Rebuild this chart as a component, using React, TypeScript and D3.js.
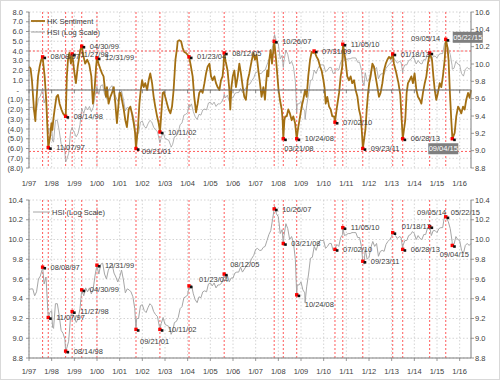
import React from "react";
import * as d3 from "d3";

// ---------- data ----------
const xTickYears = [1997, 1998, 1999, 2000, 2001, 2002, 2003, 2004, 2005, 2006, 2007, 2008, 2009, 2010, 2011, 2012, 2013, 2014, 2015, 2016];
const xTickLabels = ["1/97", "1/98", "1/99", "1/00", "1/01", "1/02", "1/03", "1/04", "1/05", "1/06", "1/07", "1/08", "1/09", "1/10", "1/11", "1/12", "1/13", "1/14", "1/15", "1/16"];
const sentimentTicks = [8, 7, 6, 5, 4, 3, 2, 1, 0, -1, -2, -3, -4, -5, -6, -7, -8];
const hsiTicksTop = [10.6, 10.4, 10.2, 10.0, 9.8, 9.6, 9.4, 9.2, 9.0, 8.8];
const hsiTicksBottom = [10.4, 10.2, 10.0, 9.8, 9.6, 9.4, 9.2, 9.0, 8.8];
const sentimentBands = [4.0, -6.3];

// HSI (natural log), value at 1/97 then month-end values Jan 1997 .. Jun 2016
const hsiStart = 9.49;
const hsiMonthEnd = [
  9.50, 9.50, 9.43, 9.47, 9.60, 9.63, 9.70, 9.55, 9.62, 9.27, 9.26, 9.28,
  9.10, 9.35, 9.35, 9.23, 9.08, 9.05, 8.99, 8.90, 8.97, 9.22, 9.25, 9.21,
  9.16, 9.20, 9.30, 9.48, 9.43, 9.51, 9.47, 9.51, 9.45, 9.50, 9.64, 9.73,
  9.65, 9.75, 9.76, 9.65, 9.60, 9.69, 9.73, 9.75, 9.66, 9.62, 9.57, 9.62,
  9.69, 9.59, 9.46, 9.50, 9.49, 9.47, 9.42, 9.30, 9.20, 9.20, 9.33, 9.34,
  9.28, 9.26, 9.31, 9.35, 9.33, 9.27, 9.24, 9.22, 9.12, 9.15, 9.21, 9.14,
  9.13, 9.12, 9.06, 9.07, 9.16, 9.17, 9.21, 9.30, 9.32, 9.41, 9.42, 9.44,
  9.50, 9.54, 9.45, 9.39, 9.36, 9.42, 9.41, 9.47, 9.48, 9.47, 9.55, 9.56,
  9.53, 9.56, 9.51, 9.54, 9.54, 9.56, 9.61, 9.61, 9.64, 9.57, 9.61, 9.61,
  9.66, 9.67, 9.67, 9.72, 9.67, 9.70, 9.73, 9.76, 9.77, 9.81, 9.84, 9.90,
  9.91, 9.89, 9.89, 9.92, 9.93, 9.99, 10.05, 10.09, 10.21, 10.34, 10.26, 10.23,
  10.06, 10.10, 10.04, 10.16, 10.11, 10.00, 10.03, 9.97, 9.80, 9.54, 9.54, 9.57,
  9.49, 9.46, 9.52, 9.65, 9.81, 9.82, 9.93, 9.89, 9.95, 9.99, 9.99, 9.99,
  9.91, 9.93, 9.96, 9.96, 9.89, 9.91, 9.95, 9.93, 10.02, 10.05, 10.04, 10.05,
  10.06, 10.06, 10.07, 10.07, 10.07, 10.02, 10.02, 9.93, 9.78, 9.90, 9.80, 9.82,
  9.92, 9.98, 9.93, 9.96, 9.83, 9.88, 9.89, 9.88, 9.95, 9.98, 10.00, 10.03,
  10.07, 10.04, 10.01, 10.03, 10.02, 9.94, 9.99, 9.99, 10.04, 10.05, 10.08, 10.06,
  10.00, 10.04, 10.01, 10.00, 10.05, 10.05, 10.12, 10.12, 10.04, 10.09, 10.09, 10.07,
  10.11, 10.12, 10.12, 10.24, 10.22, 10.18, 10.11, 9.98, 9.95, 10.03, 10.00, 9.99,
  9.89, 9.86, 9.94, 9.96, 9.94, 9.96,
];
// intra-month extremes: [year, ln HSI]
const hsiExtra: [number, number][] = [[1998.04, 9.11], [2003.27, 9.04], [2009.18, 9.36], [2011.78, 9.75]];

// HK Sentiment: [year, value]
const sentiment: [number, number][] = [
  [1997.00, 2.4], [1997.07, 2.2], [1997.13, 1.0], [1997.22, -2.0], [1997.28, -3.2], [1997.32, -1.4], [1997.40, 1.4], [1997.47, 2.4], [1997.54, 3.1], [1997.60, 3.4], [1997.69, 1.4], [1997.76, -1.0], [1997.81, -3.8], [1997.85, -5.9], [1997.93, -4.8], [1997.99, -3.4],
  [1998.03, -4.1], [1998.07, -3.1], [1998.13, -2.0], [1998.21, -0.7], [1998.28, -0.5], [1998.35, -1.4], [1998.43, -2.0], [1998.50, -2.4], [1998.57, -2.6], [1998.62, -2.7], [1998.67, 1.4], [1998.72, 3.1], [1998.78, 3.8], [1998.85, 2.7], [1998.91, 3.7], [1998.99, 2.0],
  [1999.07, 0.7], [1999.15, 2.4], [1999.26, 4.1], [1999.33, 4.5], [1999.41, 3.4], [1999.48, 2.7], [1999.57, 3.1], [1999.66, 2.6], [1999.75, 1.4], [1999.82, -1.4], [1999.90, 0.3], [1999.96, 2.4], [2000.00, 3.3],
  [2000.07, 2.7], [2000.14, 2.2], [2000.22, 1.7], [2000.29, 1.4], [2000.34, 0.3], [2000.40, -0.7], [2000.44, 0.3], [2000.51, -1.4], [2000.59, -0.7], [2000.66, -0.3], [2000.74, 0.3], [2000.81, -1.4], [2000.88, -3.4], [2000.93, -2.0], [2000.99, -0.3],
  [2001.04, -0.3], [2001.10, -1.0], [2001.18, -2.0], [2001.25, -3.1], [2001.32, -3.8], [2001.40, -2.0], [2001.47, -1.7], [2001.54, -2.4], [2001.62, -3.4], [2001.68, -4.4], [2001.72, -6.0], [2001.81, -3.8], [2001.87, -1.4], [2001.93, 0.0], [2001.99, 1.0],
  [2002.06, 0.3], [2002.13, 0.7], [2002.21, 0.0], [2002.28, 1.0], [2002.35, 1.7], [2002.43, 0.7], [2002.50, -0.7], [2002.57, -1.7], [2002.65, -2.7], [2002.72, -3.4], [2002.78, -4.3], [2002.85, -2.0], [2002.90, -0.3], [2002.96, -0.2],
  [2003.01, -0.7], [2003.09, -1.4], [2003.16, -2.0], [2003.24, -2.4], [2003.31, -1.7], [2003.38, 0.0], [2003.46, 3.1], [2003.53, 4.3], [2003.56, 5.0], [2003.63, 5.1], [2003.71, 5.0], [2003.78, 4.3], [2003.85, 3.9], [2003.93, 3.8],
  [2004.00, 3.6], [2004.06, 3.4], [2004.13, 2.6], [2004.22, 1.4], [2004.29, -0.7], [2004.37, -2.3], [2004.44, -1.4], [2004.51, -0.3], [2004.59, 0.0], [2004.66, -0.3], [2004.74, 0.7], [2004.81, 1.7], [2004.88, 2.4], [2004.96, 2.7],
  [2005.03, 1.4], [2005.10, 1.0], [2005.18, 1.4], [2005.25, 0.7], [2005.32, 0.3], [2005.40, 0.0], [2005.47, 1.0], [2005.54, 1.4], [2005.58, 2.4], [2005.61, 3.8], [2005.68, 2.9], [2005.76, 2.0], [2005.84, 0.0], [2005.88, -2.0], [2005.93, 0.3], [2005.99, 1.4],
  [2006.06, 2.0], [2006.13, 0.3], [2006.21, 1.4], [2006.28, 2.7], [2006.35, 1.7], [2006.43, 0.3], [2006.50, -0.7], [2006.57, -1.0], [2006.65, 1.0], [2006.72, 1.7], [2006.79, 2.6], [2006.86, 3.4], [2006.90, 3.8], [2006.97, 3.1],
  [2007.04, 3.6], [2007.12, 2.0], [2007.19, 0.7], [2007.26, -0.7], [2007.34, 0.3], [2007.41, -1.0], [2007.46, 0.7], [2007.51, 2.0], [2007.56, 1.4], [2007.60, 3.1], [2007.66, 4.1], [2007.72, 2.7], [2007.78, 4.1], [2007.82, 5.0], [2007.90, 3.1], [2007.96, 1.4],
  [2008.01, 0.0], [2008.07, -1.0], [2008.15, -2.0], [2008.19, -3.1], [2008.22, -5.0], [2008.27, -3.0], [2008.31, -2.7], [2008.37, -2.7], [2008.44, -2.0], [2008.51, -2.4], [2008.59, -3.1], [2008.66, -2.7], [2008.74, -3.4], [2008.81, -5.0], [2008.88, -3.8], [2008.96, -2.7],
  [2009.03, -1.7], [2009.10, -1.0], [2009.18, 0.0], [2009.25, -0.7], [2009.32, 1.4], [2009.40, 3.1], [2009.47, 3.9], [2009.54, 3.8], [2009.58, 4.0], [2009.69, 3.4], [2009.76, 3.1], [2009.84, 2.4], [2009.91, 2.0], [2009.99, 1.0],
  [2010.04, 0.2], [2010.09, -1.4], [2010.16, -0.7], [2010.24, -1.7], [2010.31, -2.0], [2010.38, -2.7], [2010.46, -2.7], [2010.50, -3.3], [2010.57, -2.0], [2010.68, -0.3], [2010.75, 1.4], [2010.82, 2.4], [2010.85, 4.7], [2010.96, 3.1],
  [2011.04, 1.4], [2011.12, 1.0], [2011.19, 1.4], [2011.26, 0.7], [2011.34, 1.0], [2011.41, 0.0], [2011.49, -0.7], [2011.56, -2.0], [2011.63, -2.7], [2011.68, -4.1], [2011.73, -6.0], [2011.84, -4.1], [2011.90, -2.0], [2011.96, -0.3],
  [2012.01, 0.7], [2012.07, 1.4], [2012.15, 2.7], [2012.22, 2.4], [2012.29, 1.4], [2012.37, 0.3], [2012.44, -0.7], [2012.51, -0.3], [2012.59, 0.7], [2012.66, 2.0], [2012.74, 2.7], [2012.81, 3.1], [2012.88, 3.4], [2012.96, 3.2],
  [2013.05, 3.7], [2013.10, 2.7], [2013.20, 1.8], [2013.30, 0.7], [2013.38, -0.5], [2013.44, -3.0], [2013.49, -5.0], [2013.60, -3.1], [2013.66, -0.3], [2013.72, 0.7], [2013.79, 1.0], [2013.87, 1.4], [2013.94, 0.7],
  [2014.01, 1.7], [2014.09, 0.0], [2014.16, -0.7], [2014.24, -1.0], [2014.31, -1.4], [2014.38, -0.3], [2014.46, 0.7], [2014.53, 1.4], [2014.60, 2.7], [2014.68, 3.8], [2014.78, 3.1], [2014.84, 1.4], [2014.90, 0.0], [2014.97, -1.0],
  [2015.04, -0.3], [2015.12, 0.7], [2015.19, 0.3], [2015.26, 1.4], [2015.34, 3.1], [2015.39, 5.2], [2015.46, 4.4], [2015.51, 3.1], [2015.57, -0.3], [2015.63, -3.1], [2015.68, -5.0], [2015.78, -4.4], [2015.85, -2.7], [2015.93, -1.7],
  [2016.00, -2.0], [2016.07, -2.4], [2016.15, -1.7], [2016.22, -2.0], [2016.29, -1.0], [2016.37, -0.3], [2016.44, -0.8], [2016.50, 0.0],
];

const eventDates = ["08/08/97", "11/07/97", "08/14/98", "11/27/98", "04/30/99", "12/31/99", "09/21/01", "10/11/02", "01/23/04", "08/12/05", "10/26/07", "03/21/08", "10/24/08", "07/31/09", "07/02/10", "11/05/10", "09/23/11", "01/18/13", "06/28/13", "09/05/14", "05/22/15", "09/04/15"];
const eventSentiment = [3.4, -5.9, -2.7, 3.7, 4.5, 3.3, -6.0, -4.3, 3.4, 3.8, 5.0, -5.0, -5.0, 4.0, -3.3, 4.7, -6.0, 3.7, -5.0, 3.8, 5.2, -5.0];
const eventHsi: (number | null)[] = [9.72, 9.21, 8.87, 9.27, 9.49, 9.74, 9.09, 9.09, 9.53, 9.65, 10.31, 9.96, 9.44, null, 9.90, 10.12, 9.78, 10.07, 9.90, 10.13, 10.23, 9.94];

// ---------- layout ----------
const W = 500, H = 380;
const L = 29, R = 471;
const T1 = 12, B1 = 168;
const T2 = 200, B2 = 358;
const FONT = "'Liberation Sans', Arial, sans-serif";
const TXT = "#404040";
const FS = 7.5;
const BROWN = "#a36f12";
const GUIDE = "#ff5a5a";
const GRID = "#c9c9c9";
const noGuide = ["07/31/09", "09/04/15"];

type LP = { dx: number; dy: number; anchor?: "start" | "middle" | "end"; box?: boolean };
const topLabel: Record<string, LP> = {
  "09/21/01": { dx: 4, dy: 3 },
  "03/21/08": { dx: -1, dy: 10 },
  "09/05/14": { dx: -6, dy: -15, anchor: "middle" },
  "05/22/15": { dx: 20, dy: -2, anchor: "middle", box: true },
  "09/04/15": { dx: -11, dy: 10, anchor: "middle", box: true },
};
const bottomLabel: Record<string, LP> = {
  "09/21/01": { dx: 2, dy: 12 },
  "01/23/04": { dx: 8, dy: -7 },
  "08/12/05": { dx: 4, dy: -10 },
  "10/24/08": { dx: 6, dy: 10 },
  "01/18/13": { dx: 7, dy: -6 },
  "09/05/14": { dx: 0, dy: -14, anchor: "middle" },
  "05/22/15": { dx: 3, dy: -4 },
  "09/04/15": { dx: 0, dy: 9, anchor: "middle" },
};

const parseDate = d3.timeParse("%m/%d/%y");
const toYear = (s: string) => {
  const d = parseDate(s)!;
  const y = d.getFullYear();
  const a = new Date(y, 0, 1).getTime();
  const b = new Date(y + 1, 0, 1).getTime();
  return y + (d.getTime() - a) / (b - a);
};

export default function App() {
  const x = d3.scaleLinear().domain([1997, 2016.5]).range([L, R]);
  const yS = d3.scaleLinear().domain([-8, 8]).range([B1, T1]);
  const yHT = d3.scaleLinear().domain([8.8, 10.6]).range([B1, T1]);
  const yHB = d3.scaleLinear().domain([8.8, 10.4]).range([B2, T2]);

  const events = eventDates.map((d, i) => ({ label: d, t: toYear(d), s: eventSentiment[i], h: eventHsi[i] }));

  const hsiPts: [number, number][] = [[1997, hsiStart]];
  hsiMonthEnd.forEach((v, i) => hsiPts.push([1997 + (i + 1) / 12, v]));
  hsiExtra.forEach((p) => hsiPts.push(p));
  events.forEach((e) => { if (e.h != null) hsiPts.push([e.t, e.h]); });
  hsiPts.sort((a, b) => a[0] - b[0]);

  const lineHT = d3.line<[number, number]>().x((d) => x(d[0])).y((d) => yHT(d[1]));
  const lineHB = d3.line<[number, number]>().x((d) => x(d[0])).y((d) => yHB(d[1]));
  const lineS = d3.line<[number, number]>().x((d) => x(d[0])).y((d) => yS(d[1]));

  const fmtS = (v: number) => (v === 0 ? "-" : v < 0 ? `(${(-v).toFixed(1)})` : v.toFixed(1));

  const label = (e: any, px: number, py: number, lp: LP | undefined, key: string) => {
    const p = lp || { dx: 6, dy: 0 };
    const tx = px + p.dx;
    const ty = py + p.dy;
    if (p.box) {
      return (
        <g key={key}>
          <rect x={tx - 15} y={ty - 5.5} width={30} height={11} fill="#7f7f7f" />
          <text x={tx} y={ty} dy="0.35em" textAnchor="middle" fill="#ffffff" fontSize={FS}>{e.label}</text>
        </g>
      );
    }
    return (
      <text key={key} x={tx} y={ty} dy="0.35em" textAnchor={p.anchor || "start"} fill={TXT} fontSize={FS}>{e.label}</text>
    );
  };

  const marker = (px: number, py: number, key: string) => (
    <g key={key}>
      <rect x={px - 1.7} y={py - 1.7} width={3.4} height={3.4} fill="#ff0000" />
      <rect x={px + 0.9} y={py - 0.2} width={2.6} height={2.6} fill="#111" />
    </g>
  );

  return (
    <svg width={W} height={H} style={{ position: "absolute", left: 0, top: 0, background: "#fff" }} fontFamily={FONT}>
      <rect x={0.5} y={0.5} width={W - 1} height={H - 1} fill="#fff" stroke="#d9d9d9" />

      {/* ===== TOP PANEL ===== */}
      <g>
        {sentimentTicks.map((v) => (
          <line key={"gh" + v} x1={L} x2={R} y1={yS(v)} y2={yS(v)} stroke={GRID} strokeWidth={0.8} strokeDasharray="1.5,2" />
        ))}
        {xTickYears.map((t) => (
          <line key={"gv" + t} x1={x(t)} x2={x(t)} y1={T1} y2={B1} stroke={GRID} strokeWidth={0.8} strokeDasharray="1.5,2" />
        ))}
        {sentimentBands.map((v) => (
          <line key={"rb" + v} x1={L} x2={R} y1={yS(v)} y2={yS(v)} stroke={GUIDE} strokeWidth={1} strokeDasharray="2,2" />
        ))}
        {events.filter((e) => !noGuide.includes(e.label)).map((e) => (
          <line key={"rv" + e.label} x1={x(e.t)} x2={x(e.t)} y1={T1} y2={B1} stroke={GUIDE} strokeWidth={1} strokeDasharray="2,2" />
        ))}
        <path d={lineHT(hsiPts)!} fill="none" stroke="#a0a0a0" strokeWidth={0.8} />
        <path d={lineS(sentiment)!} fill="none" stroke={BROWN} strokeWidth={1.8} strokeLinejoin="round" />
        {/* category axis crossing at zero */}
        <line x1={L} x2={R} y1={yS(0)} y2={yS(0)} stroke="#6b6b6b" strokeWidth={1.1} />
        {xTickYears.map((t) => (
          <line key={"xt" + t} x1={x(t)} x2={x(t)} y1={yS(0)} y2={yS(0) + 3} stroke="#6b6b6b" strokeWidth={0.8} />
        ))}
        {events.map((e) => marker(x(e.t), yS(e.s), "tm" + e.label))}
        {events.map((e) => label(e, x(e.t) + 2, yS(e.s), topLabel[e.label], "tl" + e.label))}

        {/* axes */}
        <line x1={L} x2={L} y1={T1} y2={B1} stroke="#7f7f7f" strokeWidth={1} />
        {sentimentTicks.map((v) => (
          <g key={"ly" + v}>
            <line x1={L - 3} x2={L} y1={yS(v)} y2={yS(v)} stroke="#7f7f7f" strokeWidth={0.8} />
            <text x={v === 0 ? 19 : 23} y={yS(v)} dy="0.35em" textAnchor="end" fill={TXT} fontSize={FS}>{fmtS(v)}</text>
          </g>
        ))}
        <line x1={R} x2={R} y1={T1} y2={B1} stroke="#7f7f7f" strokeWidth={1} />
        {hsiTicksTop.map((v) => (
          <g key={"ry" + v}>
            <line x1={R} x2={R + 3} y1={yHT(v)} y2={yHT(v)} stroke="#7f7f7f" strokeWidth={0.8} />
            <text x={R + 4} y={yHT(v)} dy="0.35em" fill={TXT} fontSize={FS}>{v.toFixed(1)}</text>
          </g>
        ))}
        {xTickYears.map((t, i) => (
          <text key={"xl" + t} x={x(t)} y={183} dy="0.35em" textAnchor="middle" fill={TXT} fontSize={FS}>{xTickLabels[i]}</text>
        ))}

        {/* legend */}
        <line x1={31} x2={45} y1={21} y2={21} stroke={BROWN} strokeWidth={1.8} />
        <text x={47} y={21} dy="0.35em" fill={TXT} fontSize={FS}>HK Sentiment</text>
        <line x1={31} x2={45} y1={32} y2={32} stroke="#a0a0a0" strokeWidth={1} />
        <text x={47} y={32} dy="0.35em" fill={TXT} fontSize={FS}>HSI (Log Scale)</text>
      </g>

      {/* ===== BOTTOM PANEL ===== */}
      <g>
        {hsiTicksBottom.map((v) => (
          <line key={"bgh" + v} x1={L} x2={R} y1={yHB(v)} y2={yHB(v)} stroke={GRID} strokeWidth={0.8} strokeDasharray="1.5,2" />
        ))}
        {xTickYears.map((t) => (
          <line key={"bgv" + t} x1={x(t)} x2={x(t)} y1={T2} y2={B2} stroke={GRID} strokeWidth={0.8} strokeDasharray="1.5,2" />
        ))}
        {events.filter((e) => e.h != null && !noGuide.includes(e.label)).map((e) => (
          <line key={"brv" + e.label} x1={x(e.t)} x2={x(e.t)} y1={T2} y2={B2} stroke={GUIDE} strokeWidth={1} strokeDasharray="2,2" />
        ))}
        <path d={lineHB(hsiPts)!} fill="none" stroke="#a6a6a6" strokeWidth={1} strokeLinejoin="round" />
        {events.filter((e) => e.h != null).map((e) => marker(x(e.t), yHB(e.h as number), "bm" + e.label))}
        {events.filter((e) => e.h != null).map((e) => label(e, x(e.t) + 2, yHB(e.h as number), bottomLabel[e.label], "bl" + e.label))}

        <line x1={L} x2={L} y1={T2} y2={B2} stroke="#7f7f7f" strokeWidth={1} />
        <line x1={L} x2={R} y1={B2} y2={B2} stroke="#7f7f7f" strokeWidth={1} />
        {xTickYears.map((t) => (
          <line key={"bxt" + t} x1={x(t)} x2={x(t)} y1={B2} y2={B2 + 3} stroke="#7f7f7f" strokeWidth={0.8} />
        ))}
        {hsiTicksBottom.map((v) => (
          <g key={"bly" + v}>
            <line x1={L - 3} x2={L} y1={yHB(v)} y2={yHB(v)} stroke="#7f7f7f" strokeWidth={0.8} />
            <text x={23} y={yHB(v)} dy="0.35em" textAnchor="end" fill={TXT} fontSize={FS}>{v.toFixed(1)}</text>
          </g>
        ))}
        <line x1={R} x2={R} y1={T2} y2={B2} stroke="#7f7f7f" strokeWidth={1} />
        {hsiTicksBottom.map((v) => (
          <g key={"bry" + v}>
            <line x1={R} x2={R + 3} y1={yHB(v)} y2={yHB(v)} stroke="#7f7f7f" strokeWidth={0.8} />
            <text x={R + 4} y={yHB(v)} dy="0.35em" fill={TXT} fontSize={FS}>{v.toFixed(1)}</text>
          </g>
        ))}
        {xTickYears.map((t, i) => (
          <text key={"bxl" + t} x={x(t)} y={371} dy="0.35em" textAnchor="middle" fill={TXT} fontSize={FS}>{xTickLabels[i]}</text>
        ))}
        <line x1={33} x2={50} y1={212} y2={212} stroke="#a6a6a6" strokeWidth={1} />
        <text x={52} y={212} dy="0.35em" fill={TXT} fontSize={FS}>HSI (Log Scale)</text>
      </g>
    </svg>
  );
}
